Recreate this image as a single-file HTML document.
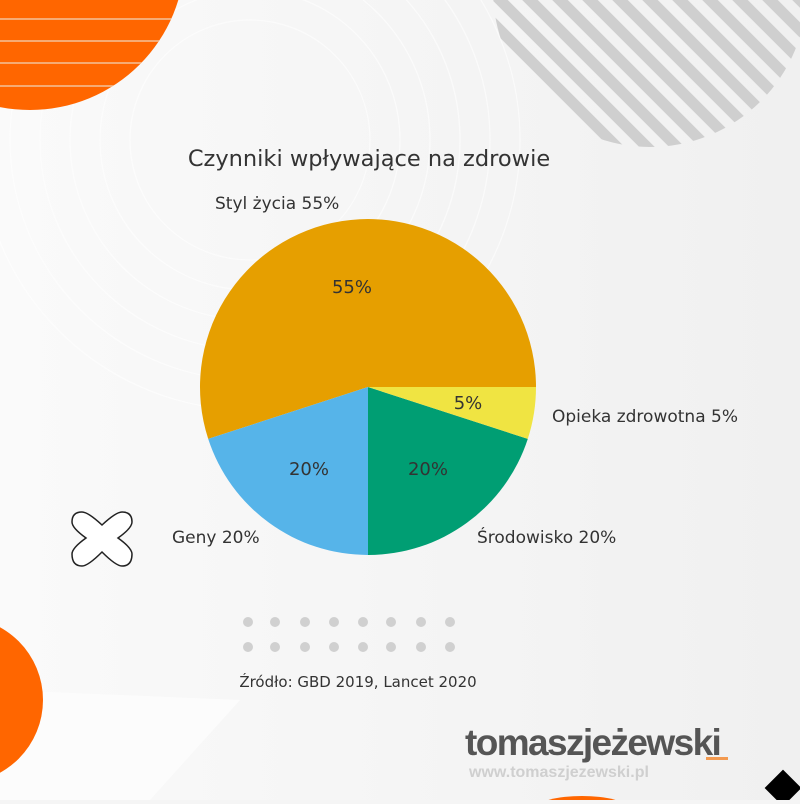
<!DOCTYPE html>
<html><head><meta charset="utf-8"><style>
body{margin:0;width:800px;height:800px;overflow:hidden;background:#f5f5f5;font-family:"DejaVu Sans","Liberation Sans",sans-serif}
</style></head><body>
<svg width="800" height="800" viewBox="0 0 800 800" xmlns="http://www.w3.org/2000/svg">
<defs>
<linearGradient id="bg" x1="0" y1="0" x2="1" y2="0"><stop offset="0" stop-color="#fafafa"/><stop offset="1" stop-color="#f0f0f0"/></linearGradient>
<clipPath id="c1"><circle cx="30" cy="-45" r="155"/></clipPath>
<clipPath id="c2"><circle cx="650" cy="-10" r="157"/></clipPath>
</defs>
<rect width="800" height="800" fill="url(#bg)"/>
<g fill="none" stroke="#fff" stroke-width="1.2" opacity="0.6">
<circle cx="250" cy="140" r="120"/><circle cx="250" cy="140" r="150"/><circle cx="250" cy="140" r="180"/><circle cx="250" cy="140" r="210"/><circle cx="250" cy="140" r="240"/><circle cx="250" cy="140" r="270"/>
</g>
<polygon points="0,690 240,700 150,800 0,800" fill="#fcfcfc"/>
<circle cx="30" cy="-45" r="155" fill="#ff6600"/>
<g clip-path="url(#c1)" stroke="#f4c29a" stroke-width="1.5"><line x1="0" y1="19" x2="300" y2="19"/><line x1="0" y1="41" x2="300" y2="41"/><line x1="0" y1="63" x2="300" y2="63"/><line x1="0" y1="86" x2="300" y2="86"/></g>
<g clip-path="url(#c2)" stroke="#cfcfcf" stroke-width="11">
<line x1="450" y1="-200" x2="850" y2="200"/><line x1="420" y1="-200" x2="820" y2="200"/><line x1="390" y1="-200" x2="790" y2="200"/><line x1="360" y1="-200" x2="760" y2="200"/><line x1="330" y1="-200" x2="730" y2="200"/><line x1="300" y1="-200" x2="700" y2="200"/><line x1="270" y1="-200" x2="670" y2="200"/><line x1="480" y1="-200" x2="880" y2="200"/><line x1="510" y1="-200" x2="910" y2="200"/><line x1="540" y1="-200" x2="940" y2="200"/><line x1="570" y1="-200" x2="970" y2="200"/><line x1="600" y1="-200" x2="1000" y2="200"/><line x1="630" y1="-200" x2="1030" y2="200"/><line x1="660" y1="-200" x2="1060" y2="200"/>
</g>
<circle cx="-40" cy="700" r="83" fill="#ff6600"/>
<ellipse cx="582" cy="808" rx="45" ry="12" fill="#ff6600"/>
<rect x="770" y="775" width="26" height="26" transform="rotate(45 783 788)" fill="#000"/>
<path d="M82 512 Q72 512 72 522 Q72 528 86 538 Q72 548 72 554 Q72 566 82 566 Q88 566 102 552 Q116 566 122 566 Q132 566 132 554 Q132 548 118 538 Q132 528 132 522 Q132 512 122 512 Q116 512 102 525 Q88 512 82 512Z" fill="#fff" stroke="#222" stroke-width="1.5"/>
<g fill="#d0d0d0">
<circle cx="248" cy="622" r="5"/><circle cx="275" cy="622" r="5"/><circle cx="305" cy="622" r="5"/><circle cx="334" cy="622" r="5"/><circle cx="363" cy="622" r="5"/><circle cx="391" cy="622" r="5"/><circle cx="421" cy="622" r="5"/><circle cx="450" cy="622" r="5"/>
<circle cx="248" cy="647" r="5"/><circle cx="275" cy="647" r="5"/><circle cx="305" cy="647" r="5"/><circle cx="334" cy="647" r="5"/><circle cx="363" cy="647" r="5"/><circle cx="391" cy="647" r="5"/><circle cx="421" cy="647" r="5"/><circle cx="450" cy="647" r="5"/>
</g>
<path d="M368 387 L536 387 A168 168 0 1 0 208.2 438.9 Z" fill="#e69f00"/>
<path d="M368 387 L208.2 438.9 A168 168 0 0 0 368 555 Z" fill="#56b4e9"/>
<path d="M368 387 L368 555 A168 168 0 0 0 527.8 438.9 Z" fill="#009e73"/>
<path d="M368 387 L527.8 438.9 A168 168 0 0 0 536 387 Z" fill="#f0e442"/>
<g fill="#333" font-size="17">
<text x="369" y="166" text-anchor="middle" font-size="22.5">Czynniki wpływające na zdrowie</text>
<text x="215" y="209">Styl życia 55%</text>
<text x="352" y="293" text-anchor="middle" font-size="18">55%</text>
<text x="468" y="409" text-anchor="middle" font-size="18">5%</text>
<text x="552" y="422">Opieka zdrowotna 5%</text>
<text x="309" y="475" text-anchor="middle" font-size="18">20%</text>
<text x="428" y="475" text-anchor="middle" font-size="18">20%</text>
<text x="172" y="543">Geny 20%</text>
<text x="477" y="543">Środowisko 20%</text>
<text x="358" y="687" text-anchor="middle" font-size="15">Źródło: GBD 2019, Lancet 2020</text>
</g>
<text x="465" y="755" font-family="Liberation Sans,sans-serif" font-weight="bold" font-size="37" fill="#555" letter-spacing="-1.6">tomaszjeżewski</text>
<rect x="706" y="757" width="22" height="3" fill="#f39a50"/>
<text x="469" y="777" font-family="Liberation Sans,sans-serif" font-weight="bold" font-size="16" fill="#cfcfcf">www.tomaszjezewski.pl</text>
</svg>
</body></html>
